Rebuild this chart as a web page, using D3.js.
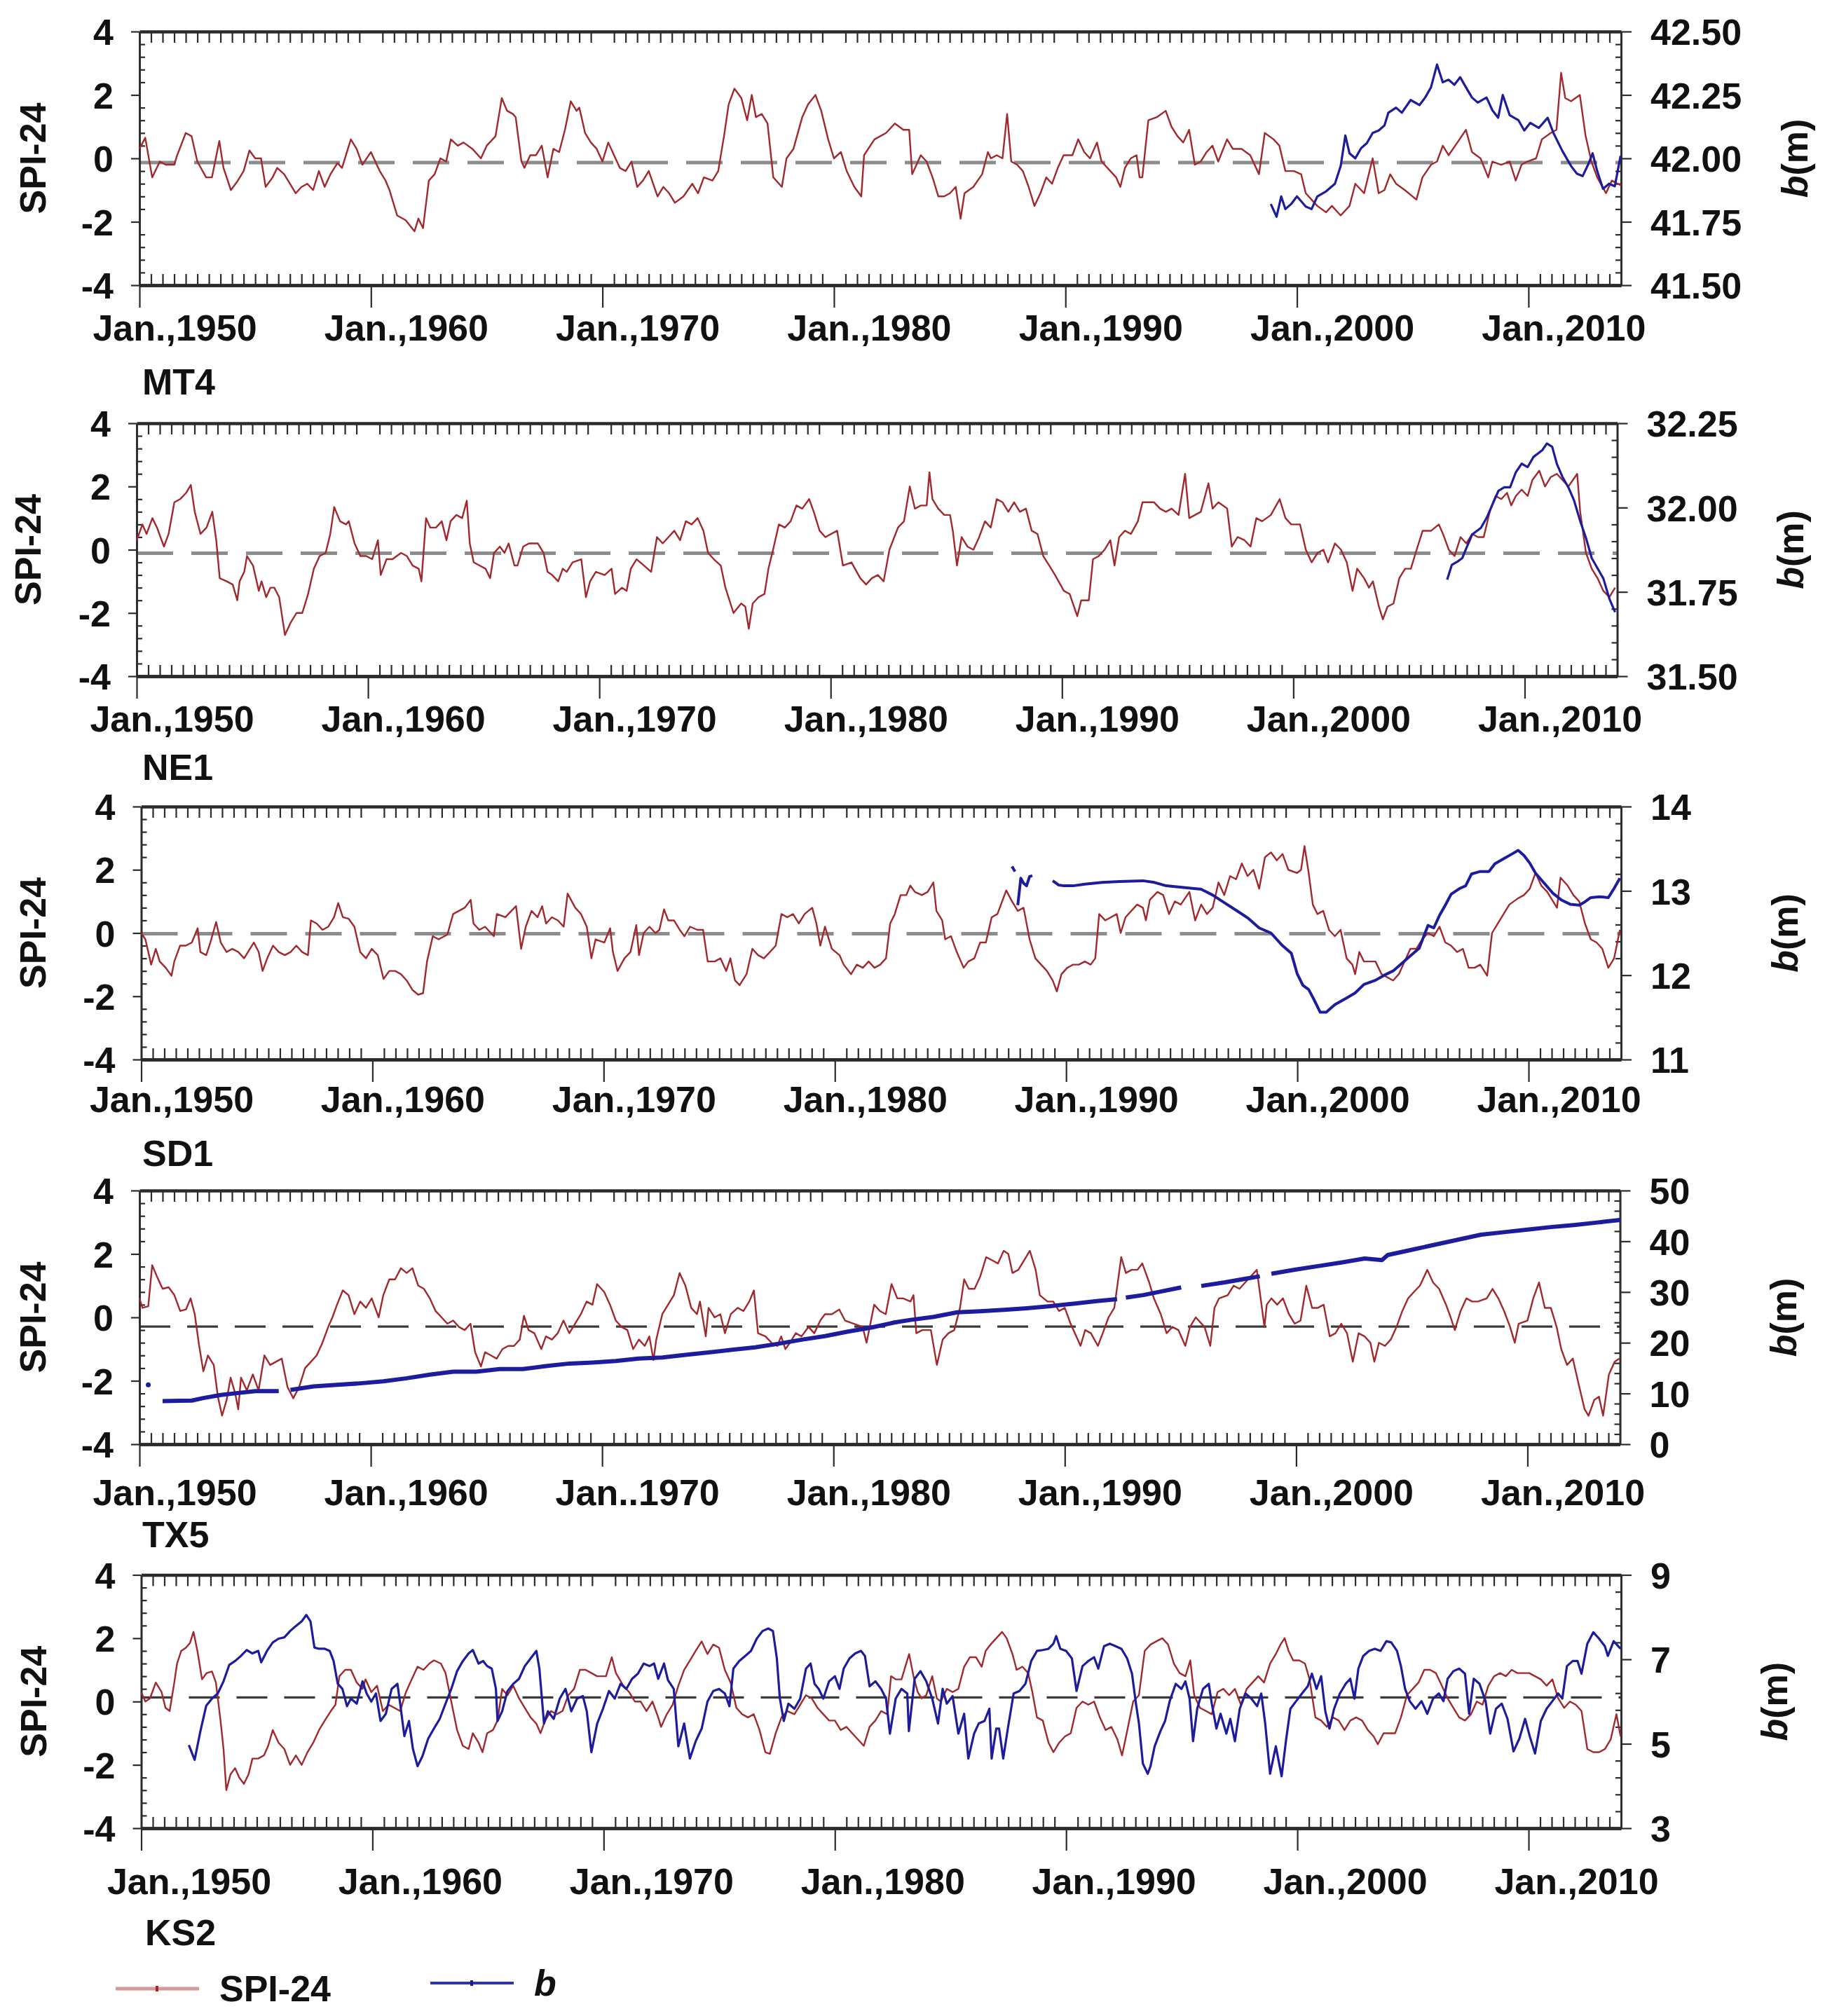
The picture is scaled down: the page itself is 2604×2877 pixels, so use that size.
<!DOCTYPE html>
<meta charset="utf-8">
<head>
  <script src="https://d3js.org/d3.v7.min.js"></script>
  <style>
    body { margin: 0; background: #fff; }
    svg { display: block; }
    svg text { font-family: "Liberation Sans", Arial, sans-serif; font-weight: bold; font-size: 52px; fill: #111; }
  </style>
</head>
<body>
<div id="my_dataviz"></div>
<script>

// ---------------- data ----------------
var sites = ["MT4", "NE1", "SD1", "TX5", "KS2"];
var yearDomain = [1950, 2014];
var decades = [1950, 1960, 1970, 1980, 1990, 2000, 2010];
var decadeLabels = ["Jan.,1950", "Jan.,1960", "Jan.,1970", "Jan.,1980", "Jan.,1990", "Jan.,2000", "Jan.,2010"];
var tx5Labels = ["Jan.,1950", "Jan.,1960", "Jan..1970", "Jan.,1980", "Jan.,1990", "Jan.,2000", "Jan.,2010"];
var spiTicks = [-4, -2, 0, 2, 4];
var mt4BTicks = [41.5, 41.75, 42, 42.25, 42.5];
var ne1BTicks = [31.5, 31.75, 32, 32.25];
var sd1BTicks = [11, 12, 13, 14];
var tx5BTicks = [0, 10, 20, 30, 40, 50];
var ks2BTicks = [3, 5, 7, 9];
var dashLevels = [-0.13, -0.11, -0.02, -0.29, 0.13];

var spiMT4 = [[1950.00,0.3],[1950.25,0.65],[1950.55,-0.6],[1950.88,-0.1],[1951.13,-0.2],[1951.5,-0.2],[1951.63,0.1],[1952.0,0.8],[1952.25,0.7],[1952.5,-0.1],[1952.88,-0.6],[1953.13,-0.6],[1953.45,0.55],[1953.63,-0.3],[1953.95,-1.0],[1954.25,-0.7],[1954.5,-0.4],[1954.75,0.25],[1955.0,0.0],[1955.25,0.0],[1955.45,-0.9],[1955.75,-0.6],[1955.95,-0.3],[1956.25,-0.5],[1956.5,-0.8],[1956.75,-1.1],[1957.0,-0.9],[1957.25,-0.8],[1957.5,-1.0],[1957.75,-0.4],[1958.0,-0.9],[1958.25,-0.5],[1958.55,-0.15],[1958.75,-0.3],[1959.13,0.6],[1959.38,0.3],[1959.63,-0.2],[1960.0,0.2],[1960.25,-0.2],[1960.38,-0.4],[1960.63,-0.7],[1960.8,-1.0],[1961.13,-1.8],[1961.5,-1.95],[1961.88,-2.3],[1962.05,-1.9],[1962.25,-2.2],[1962.5,-0.7],[1962.75,-0.5],[1963.0,0.0],[1963.25,-0.1],[1963.45,0.6],[1963.75,0.4],[1964.0,0.5],[1964.38,0.3],[1964.75,0.0],[1965.0,0.4],[1965.38,0.7],[1965.65,1.9],[1965.88,1.5],[1966.13,1.4],[1966.25,1.3],[1966.5,-0.1],[1966.63,-0.3],[1966.88,0.1],[1967.13,0.1],[1967.38,0.4],[1967.63,-0.6],[1967.88,0.3],[1968.13,0.2],[1968.38,0.9],[1968.63,1.8],[1968.88,1.5],[1969.0,1.6],[1969.25,0.8],[1969.5,0.5],[1969.75,0.3],[1970.0,-0.1],[1970.25,0.5],[1970.5,0.1],[1970.75,-0.3],[1971.0,-0.4],[1971.25,-0.1],[1971.5,-0.9],[1971.75,-0.7],[1972.0,-0.4],[1972.38,-1.2],[1972.63,-0.9],[1972.88,-1.1],[1973.13,-1.4],[1973.5,-1.2],[1973.88,-0.8],[1974.13,-1.1],[1974.38,-0.6],[1974.75,-0.7],[1975.0,-0.4],[1975.25,0.7],[1975.45,1.7],[1975.7,2.2],[1976.0,1.9],[1976.25,1.2],[1976.45,2.0],[1976.63,1.3],[1976.88,1.4],[1977.13,1.1],[1977.38,-0.6],[1977.75,-0.9],[1977.95,0.0],[1978.25,0.3],[1978.63,1.3],[1978.88,1.7],[1979.2,2.0],[1979.45,1.5],[1979.75,0.6],[1980.0,0.0],[1980.3,0.2],[1980.55,-0.4],[1980.88,-0.9],[1981.18,-1.2],[1981.3,0.1],[1981.75,0.6],[1982.25,0.8],[1982.63,1.1],[1983.0,0.9],[1983.25,0.9],[1983.38,-0.5],[1983.75,0.1],[1984.0,-0.1],[1984.26,-0.6],[1984.51,-1.2],[1984.76,-1.2],[1985.01,-1.1],[1985.26,-0.9],[1985.47,-1.9],[1985.64,-1.1],[1986.02,-0.9],[1986.4,-0.5],[1986.65,0.2],[1986.78,0.0],[1987.03,0.1],[1987.28,0.0],[1987.48,1.4],[1987.66,-0.1],[1987.91,-0.2],[1988.16,-0.4],[1988.41,-0.9],[1988.66,-1.5],[1988.92,-1.1],[1989.17,-0.6],[1989.42,-0.8],[1989.67,-0.3],[1989.92,0.1],[1990.3,0.1],[1990.55,0.6],[1990.81,0.2],[1991.06,0.0],[1991.36,0.5],[1991.56,-0.1],[1991.94,-0.4],[1992.19,-0.6],[1992.37,-0.9],[1992.57,-0.3],[1992.82,0.0],[1993.07,0.1],[1993.2,-0.6],[1993.32,-0.6],[1993.58,1.2],[1993.95,1.3],[1994.33,1.5],[1994.58,1.0],[1994.84,0.7],[1995.09,0.5],[1995.34,0.9],[1995.59,-0.2],[1995.84,-0.1],[1996.1,0.2],[1996.35,0.4],[1996.6,-0.1],[1996.98,0.6],[1997.23,0.3],[1997.61,0.3],[1997.98,0.1],[1998.36,-0.5],[1998.61,0.8],[1998.99,0.6],[1999.24,0.4],[1999.5,-0.4],[1999.87,-0.4],[2000.18,-0.5],[2000.38,-1.1],[2000.63,-1.3],[2000.88,-1.5],[2001.26,-1.7],[2001.51,-1.5],[2001.89,-1.8],[2002.27,-1.5],[2002.52,-0.8],[2002.9,-1.1],[2003.27,0.0],[2003.53,-1.1],[2003.78,-1.0],[2004.03,-0.5],[2004.28,-0.8],[2004.66,-1.0],[2005.16,-1.3],[2005.42,-0.6],[2005.79,-0.2],[2006.05,-0.1],[2006.3,0.4],[2006.55,0.1],[2006.93,0.5],[2007.3,0.9],[2007.56,0.2],[2007.93,0.0],[2008.26,-0.6],[2008.44,-0.1],[2008.82,-0.2],[2009.19,-0.1],[2009.45,-0.7],[2009.7,-0.2],[2009.95,-0.1],[2010.33,0.0],[2010.58,0.6],[2010.96,0.8],[2011.21,0.9],[2011.41,2.7],[2011.59,1.9],[2011.84,1.8],[2012.22,2.0],[2012.47,0.7],[2012.72,-0.1],[2012.97,-0.6],[2013.35,-1.1],[2013.6,-0.7],[2013.85,-0.8],[2014.0,-0.85]];

var bMT4 = [[1998.87,41.82],[1999.12,41.77],[1999.32,41.85],[1999.5,41.80],[1999.75,41.82],[2000.0,41.85],[2000.38,41.81],[2000.63,41.80],[2000.88,41.85],[2001.26,41.87],[2001.64,41.90],[2001.89,41.97],[2002.09,42.09],[2002.27,42.02],[2002.52,42.00],[2002.77,42.04],[2003.02,42.06],[2003.27,42.10],[2003.53,42.11],[2003.78,42.13],[2003.95,42.18],[2004.28,42.20],[2004.53,42.18],[2004.91,42.23],[2005.29,42.21],[2005.54,42.24],[2005.79,42.28],[2006.05,42.37],[2006.3,42.30],[2006.55,42.31],[2006.8,42.29],[2007.05,42.32],[2007.3,42.28],[2007.56,42.24],[2007.81,42.22],[2008.19,42.24],[2008.44,42.19],[2008.69,42.16],[2008.89,42.25],[2009.19,42.17],[2009.57,42.15],[2009.82,42.11],[2010.08,42.14],[2010.45,42.12],[2010.83,42.16],[2011.08,42.10],[2011.46,42.03],[2011.84,41.97],[2012.09,41.94],[2012.34,41.93],[2012.6,41.98],[2012.77,42.02],[2012.97,41.95],[2013.22,41.88],[2013.48,41.90],[2013.73,41.89],[2013.98,42.01]];

var spiNE1 = [[1950.0,0.3],[1950.25,0.8],[1950.43,0.5],[1950.68,1.0],[1950.88,0.7],[1951.18,0.1],[1951.38,0.5],[1951.63,1.5],[1951.88,1.6],[1952.14,1.8],[1952.34,2.05],[1952.51,1.2],[1952.76,0.5],[1953.02,0.7],[1953.27,1.2],[1953.44,0.3],[1953.59,-0.9],[1953.89,-1.0],[1954.15,-1.1],[1954.35,-1.6],[1954.45,-1.0],[1954.65,-0.7],[1954.77,-0.2],[1955.03,-0.5],[1955.28,-1.3],[1955.4,-1.0],[1955.6,-1.5],[1955.78,-1.2],[1955.95,-1.2],[1956.16,-1.5],[1956.41,-2.7],[1956.66,-2.3],[1956.91,-2.0],[1957.16,-2.0],[1957.41,-1.4],[1957.66,-0.6],[1957.91,-0.2],[1958.17,-0.1],[1958.37,0.5],[1958.54,1.35],[1958.79,0.9],[1959.05,0.8],[1959.17,0.9],[1959.42,0.2],[1959.67,-0.2],[1959.92,-0.2],[1960.18,-0.3],[1960.43,0.3],[1960.55,-0.8],[1960.8,-0.3],[1961.06,-0.3],[1961.43,-0.1],[1961.68,-0.2],[1961.93,-0.5],[1962.19,-0.6],[1962.31,-1.0],[1962.51,1.0],[1962.69,0.7],[1962.94,0.7],[1963.19,0.9],[1963.39,0.3],[1963.57,0.9],[1963.82,1.1],[1964.07,1.0],[1964.27,1.55],[1964.4,0.2],[1964.57,-0.4],[1964.82,-0.5],[1965.08,-0.6],[1965.28,-0.9],[1965.45,-0.1],[1965.7,0.1],[1965.9,-0.1],[1966.08,0.2],[1966.33,-0.5],[1966.46,-0.5],[1966.71,0.1],[1966.96,0.2],[1967.34,0.2],[1967.59,-0.1],[1967.76,-0.7],[1967.96,-0.8],[1968.22,-1.0],[1968.42,-0.6],[1968.59,-0.7],[1968.84,-0.4],[1969.22,-0.3],[1969.42,-1.5],[1969.6,-1.0],[1969.85,-0.7],[1970.23,-0.8],[1970.53,-0.6],[1970.68,-1.4],[1970.98,-1.2],[1971.18,-1.3],[1971.36,-0.6],[1971.61,-0.3],[1971.93,-0.5],[1972.24,-0.7],[1972.49,0.4],[1972.74,0.2],[1972.99,0.4],[1973.24,0.6],[1973.49,0.3],[1973.74,0.9],[1973.99,0.8],[1974.25,1.0],[1974.5,0.6],[1974.7,-0.1],[1974.95,-0.3],[1975.25,-0.5],[1975.45,-1.2],[1975.8,-2.0],[1976.13,-1.7],[1976.31,-1.8],[1976.46,-2.5],[1976.63,-1.7],[1976.88,-1.5],[1977.14,-1.4],[1977.31,-0.6],[1977.51,0.0],[1977.76,0.8],[1978.02,0.7],[1978.27,0.9],[1978.52,1.4],[1978.77,1.3],[1979.07,1.6],[1979.27,1.2],[1979.52,0.6],[1979.77,0.4],[1980.28,0.6],[1980.53,-0.5],[1980.9,-0.4],[1981.28,-0.9],[1981.53,-1.1],[1981.78,-0.9],[1982.04,-0.8],[1982.29,-1.0],[1982.54,0.0],[1982.91,0.7],[1983.17,0.9],[1983.42,2.0],[1983.64,1.3],[1983.9,1.4],[1984.15,1.4],[1984.27,2.45],[1984.4,1.6],[1984.65,1.3],[1984.91,1.1],[1985.16,1.1],[1985.28,0.6],[1985.46,-0.5],[1985.66,0.4],[1985.91,0.1],[1986.17,0.0],[1986.42,0.4],[1986.67,0.9],[1986.92,0.7],[1987.18,1.6],[1987.43,1.5],[1987.68,1.2],[1987.93,1.5],[1988.18,1.2],[1988.44,1.3],[1988.69,0.6],[1988.94,0.5],[1989.19,-0.2],[1989.45,-0.5],[1989.7,-0.8],[1990.08,-1.3],[1990.33,-1.4],[1990.66,-2.1],[1990.83,-1.6],[1991.16,-1.6],[1991.34,-0.3],[1991.59,-0.2],[1991.84,0.0],[1992.09,0.3],[1992.27,-0.5],[1992.47,0.4],[1992.72,0.6],[1992.98,0.5],[1993.28,0.9],[1993.48,1.5],[1993.73,1.5],[1993.98,1.5],[1994.24,1.3],[1994.49,1.2],[1994.74,1.3],[1995.04,1.1],[1995.32,2.4],[1995.5,1.0],[1995.75,1.1],[1996.0,1.2],[1996.33,2.1],[1996.51,1.3],[1996.76,1.5],[1997.14,1.3],[1997.34,0.1],[1997.59,0.4],[1997.89,0.3],[1998.15,0.1],[1998.4,1.0],[1998.65,0.9],[1999.03,1.1],[1999.41,1.6],[1999.66,1.0],[1999.91,0.8],[2000.29,0.8],[2000.54,0.0],[2000.79,-0.4],[2001.05,-0.1],[2001.3,0.0],[2001.5,-0.4],[2001.8,0.2],[2002.06,0.0],[2002.31,-0.4],[2002.56,-1.3],[2002.76,-0.6],[2003.06,-0.9],[2003.27,-1.2],[2003.44,-1.0],[2003.7,-1.8],[2003.87,-2.2],[2004.07,-1.8],[2004.33,-1.7],[2004.58,-0.9],[2004.83,-0.6],[2005.08,-0.6],[2005.33,0.0],[2005.59,0.6],[2005.96,0.6],[2006.29,0.8],[2006.47,0.5],[2006.72,0.0],[2006.97,-0.2],[2007.23,0.4],[2007.48,0.2],[2007.73,0.5],[2007.98,0.4],[2008.23,0.4],[2008.49,1.2],[2008.74,1.7],[2008.99,1.6],[2009.24,1.8],[2009.42,1.4],[2009.62,1.7],[2009.87,1.9],[2010.13,1.7],[2010.33,2.2],[2010.63,2.5],[2010.88,2.0],[2011.13,2.3],[2011.39,2.4],[2011.64,2.2],[2011.89,2.0],[2012.27,2.4],[2012.4,1.2],[2012.65,-0.1],[2012.9,-0.6],[2013.15,-0.9],[2013.4,-1.3],[2013.66,-1.5],[2013.91,-1.2]];

var bNE1 = [[2006.65,31.786],[2006.85,31.83],[2007.1,31.84],[2007.3,31.85],[2007.48,31.88],[2007.73,31.92],[2008.11,31.94],[2008.36,31.97],[2008.61,32.01],[2008.87,32.05],[2009.12,32.06],[2009.37,32.06],[2009.62,32.105],[2009.87,32.13],[2010.13,32.12],[2010.38,32.15],[2010.76,32.17],[2010.96,32.19],[2011.19,32.18],[2011.39,32.13],[2011.64,32.09],[2011.89,32.06],[2012.14,32.02],[2012.4,31.96],[2012.65,31.91],[2012.9,31.85],[2013.15,31.82],[2013.4,31.79],[2013.66,31.73],[2013.91,31.69]];

var spiSD1 = [[1950.0,0.0],[1950.18,-0.2],[1950.43,-1.0],[1950.63,-0.5],[1950.8,-0.9],[1951.06,-1.1],[1951.31,-1.35],[1951.43,-0.9],[1951.68,-0.4],[1951.93,-0.4],[1952.19,-0.3],[1952.44,0.15],[1952.56,-0.6],[1952.81,-0.7],[1952.99,-0.3],[1953.24,0.35],[1953.44,-0.3],[1953.69,-0.6],[1953.94,-0.5],[1954.2,-0.6],[1954.45,-0.8],[1954.7,-0.5],[1954.87,-0.3],[1955.08,-0.6],[1955.25,-1.2],[1955.45,-0.8],[1955.7,-0.4],[1955.95,-0.6],[1956.21,-0.7],[1956.46,-0.6],[1956.71,-0.4],[1956.96,-0.6],[1957.21,-0.7],[1957.34,0.4],[1957.59,0.3],[1957.84,0.1],[1958.09,0.2],[1958.34,0.5],[1958.52,0.95],[1958.72,0.5],[1958.97,0.45],[1959.22,0.2],[1959.47,-0.6],[1959.72,-0.8],[1959.97,-0.5],[1960.23,-0.7],[1960.48,-1.45],[1960.73,-1.2],[1960.98,-1.2],[1961.23,-1.3],[1961.48,-1.5],[1961.73,-1.8],[1961.98,-1.95],[1962.19,-1.9],[1962.36,-0.9],[1962.61,-0.1],[1962.86,-0.2],[1963.24,-0.05],[1963.49,0.6],[1963.74,0.7],[1963.99,0.8],[1964.25,1.05],[1964.37,0.3],[1964.62,0.1],[1964.87,0.2],[1965.25,-0.1],[1965.38,0.6],[1965.75,0.5],[1966.01,0.7],[1966.21,0.85],[1966.43,-0.5],[1966.63,0.2],[1966.88,0.7],[1967.14,0.5],[1967.34,0.85],[1967.51,0.3],[1967.76,0.5],[1968.02,0.4],[1968.27,0.2],[1968.44,1.25],[1968.77,0.8],[1969.02,0.6],[1969.27,0.2],[1969.47,-0.8],[1969.65,-0.2],[1970.03,-0.3],[1970.28,0.15],[1970.4,-0.6],[1970.6,-1.2],[1970.9,-0.8],[1971.16,-0.6],[1971.41,0.25],[1971.53,-0.7],[1971.73,0.0],[1971.98,0.2],[1972.24,0.0],[1972.41,0.1],[1972.61,0.75],[1972.79,0.4],[1973.04,0.4],[1973.29,0.1],[1973.49,-0.1],[1973.74,0.2],[1974.05,0.1],[1974.3,0.1],[1974.5,-0.9],[1974.8,-0.9],[1975.05,-0.8],[1975.3,-1.2],[1975.48,-0.8],[1975.68,-1.5],[1975.88,-1.65],[1976.18,-1.3],[1976.43,-0.5],[1976.68,-0.7],[1976.93,-0.8],[1977.19,-0.6],[1977.44,-0.4],[1977.69,0.6],[1977.94,0.5],[1978.19,0.6],[1978.44,0.3],[1978.69,0.6],[1979.02,0.8],[1979.2,0.3],[1979.37,-0.4],[1979.57,0.2],[1979.87,-0.5],[1980.2,-0.7],[1980.38,-1.0],[1980.7,-1.3],[1980.95,-1.0],[1981.21,-1.1],[1981.46,-0.9],[1981.71,-1.1],[1981.96,-1.0],[1982.21,-0.8],[1982.39,0.3],[1982.59,0.6],[1982.84,1.2],[1983.09,1.2],[1983.26,1.5],[1983.46,1.3],[1983.76,1.2],[1984.01,1.3],[1984.26,1.6],[1984.39,0.7],[1984.64,0.4],[1984.77,-0.2],[1985.02,-0.1],[1985.27,-0.6],[1985.57,-1.1],[1985.77,-0.9],[1986.03,-0.8],[1986.28,-0.3],[1986.53,-0.3],[1986.78,0.5],[1987.03,0.6],[1987.41,1.35],[1987.66,1.0],[1987.91,0.7],[1988.16,0.8],[1988.42,-0.2],[1988.67,-0.8],[1988.92,-1.0],[1989.17,-1.2],[1989.42,-1.5],[1989.6,-1.85],[1989.8,-1.3],[1990.05,-1.1],[1990.3,-1.0],[1990.55,-1.0],[1990.81,-0.9],[1991.06,-1.0],[1991.26,-0.8],[1991.43,0.6],[1991.69,0.4],[1991.94,0.5],[1992.19,0.6],[1992.36,0.0],[1992.57,0.5],[1992.82,0.7],[1993.07,0.9],[1993.32,0.8],[1993.45,0.4],[1993.62,1.05],[1993.95,1.3],[1994.2,1.2],[1994.45,0.6],[1994.7,1.0],[1994.96,0.9],[1995.33,1.3],[1995.58,0.4],[1995.84,0.9],[1996.09,0.6],[1996.34,0.8],[1996.59,1.6],[1996.84,1.2],[1997.09,1.8],[1997.35,1.7],[1997.6,2.2],[1997.85,1.8],[1998.1,2.0],[1998.35,1.4],[1998.6,2.4],[1998.86,2.55],[1999.11,2.3],[1999.36,2.5],[1999.61,2.0],[1999.99,1.9],[2000.16,2.0],[2000.31,2.75],[2000.49,1.9],[2000.67,0.9],[2000.87,0.6],[2001.12,0.7],[2001.37,0.1],[2001.62,-0.1],[2001.87,0.1],[2002.13,-0.8],[2002.38,-1.0],[2002.5,-1.3],[2002.68,-0.6],[2002.88,-0.9],[2003.13,-0.9],[2003.38,-0.9],[2003.64,-1.3],[2003.89,-1.4],[2004.14,-1.5],[2004.39,-1.3],[2004.64,-0.9],[2004.89,-0.5],[2005.14,-0.5],[2005.4,-0.2],[2005.65,0.0],[2005.9,-0.1],[2006.15,0.2],[2006.4,-0.3],[2006.65,-0.4],[2006.91,-0.6],[2007.16,-0.5],[2007.41,-1.1],[2007.66,-1.1],[2007.91,-1.0],[2008.21,-1.35],[2008.42,0.0],[2008.67,0.3],[2008.92,0.6],[2009.17,0.9],[2009.55,1.1],[2009.8,1.2],[2010.05,1.4],[2010.3,1.9],[2010.55,1.5],[2010.81,1.3],[2011.06,1.0],[2011.23,0.8],[2011.38,1.75],[2011.69,1.5],[2011.94,1.2],[2012.19,1.0],[2012.44,0.3],[2012.69,-0.2],[2012.94,-0.3],[2013.19,-0.5],[2013.45,-1.1],[2013.7,-0.8],[2013.95,0.1]];

var bSD1 = [[1987.66,13.29],[1987.79,13.23],[1987.85,null],[1987.91,12.83],[1988.04,13.15],[1988.16,13.09],[1988.29,13.06],[1988.42,13.17],[1988.54,13.18],[1988.9,null],[1989.42,13.12],[1989.67,13.07],[1989.92,13.06],[1990.3,13.06],[1990.81,13.08],[1991.56,13.1],[1992.31,13.11],[1993.32,13.12],[1993.82,13.1],[1994.33,13.06],[1995.08,13.04],[1995.84,13.02],[1996.34,12.95],[1996.84,12.86],[1997.35,12.77],[1997.85,12.68],[1998.35,12.56],[1998.86,12.5],[1999.36,12.35],[1999.74,12.26],[1999.99,12.02],[2000.24,11.88],[2000.49,11.83],[2000.74,11.7],[2000.99,11.56],[2001.25,11.56],[2001.62,11.65],[2002.13,11.73],[2002.5,11.79],[2002.88,11.89],[2003.38,11.94],[2003.76,12.0],[2004.14,12.05],[2004.52,12.14],[2004.89,12.23],[2005.27,12.32],[2005.65,12.59],[2005.9,12.56],[2006.15,12.71],[2006.4,12.83],[2006.65,12.96],[2007.03,13.03],[2007.28,13.06],[2007.53,13.2],[2007.91,13.23],[2008.29,13.23],[2008.54,13.32],[2008.92,13.38],[2009.3,13.44],[2009.55,13.48],[2009.8,13.42],[2010.05,13.33],[2010.3,13.21],[2010.68,13.09],[2011.06,12.97],[2011.43,12.89],[2011.81,12.84],[2012.19,12.83],[2012.44,12.87],[2012.69,12.92],[2013.07,12.93],[2013.45,12.92],[2013.7,13.03],[2013.95,13.15]];

var spiTX5 = [[1950.0,0.6],[1950.13,0.3],[1950.38,0.35],[1950.55,1.65],[1950.75,1.3],[1951.0,0.9],[1951.26,0.95],[1951.51,0.7],[1951.76,0.2],[1952.01,0.25],[1952.21,0.6],[1952.39,0.1],[1952.56,-0.8],[1952.76,-1.7],[1952.96,-1.2],[1953.21,-1.5],[1953.39,-2.5],[1953.57,-3.1],[1953.77,-2.6],[1953.94,-1.9],[1954.14,-2.4],[1954.27,-2.9],[1954.39,-1.9],[1954.64,-2.3],[1954.9,-1.8],[1955.15,-2.3],[1955.4,-1.2],[1955.65,-1.5],[1955.9,-1.4],[1956.15,-1.3],[1956.4,-2.2],[1956.65,-2.55],[1956.9,-2.2],[1957.16,-1.6],[1957.41,-1.4],[1957.66,-1.2],[1957.91,-0.8],[1958.16,-0.3],[1958.34,0.0],[1958.54,0.4],[1958.79,0.85],[1959.04,0.7],[1959.29,0.1],[1959.54,0.5],[1959.79,0.3],[1960.04,0.6],[1960.34,0.0],[1960.54,0.7],[1960.8,1.2],[1961.05,1.2],[1961.3,1.55],[1961.55,1.4],[1961.8,1.55],[1962.05,1.0],[1962.3,0.9],[1962.55,0.6],[1962.8,0.2],[1963.06,0.0],[1963.31,-0.2],[1963.56,-0.1],[1963.81,-0.3],[1964.06,-0.4],[1964.31,-0.2],[1964.51,-1.1],[1964.76,-1.55],[1964.94,-1.1],[1965.19,-1.2],[1965.44,-1.3],[1965.69,-1.0],[1965.94,-0.9],[1966.19,-0.9],[1966.44,-0.7],[1966.62,0.05],[1966.82,-0.4],[1967.07,-0.5],[1967.37,-1.0],[1967.57,-0.6],[1967.83,-0.7],[1968.08,-0.5],[1968.33,-0.1],[1968.58,-0.5],[1968.83,-0.2],[1969.08,0.1],[1969.33,0.5],[1969.58,0.4],[1969.78,1.05],[1970.09,0.8],[1970.34,0.4],[1970.59,-0.1],[1970.84,-0.3],[1971.09,-0.4],[1971.34,-1.0],[1971.59,-0.7],[1971.84,-0.9],[1972.04,-0.6],[1972.22,-1.35],[1972.34,-0.7],[1972.6,0.1],[1972.85,0.4],[1973.1,0.7],[1973.35,1.4],[1973.6,1.0],[1973.85,0.3],[1974.1,0.1],[1974.23,0.5],[1974.48,-0.6],[1974.6,0.3],[1974.86,0.0],[1975.11,0.1],[1975.31,-0.5],[1975.56,0.1],[1975.86,0.3],[1976.11,0.2],[1976.36,0.5],[1976.56,0.85],[1976.74,-0.5],[1977.06,-0.6],[1977.32,-0.8],[1977.57,-0.9],[1977.74,-0.6],[1977.92,-1.0],[1978.12,-0.8],[1978.37,-0.5],[1978.62,-0.6],[1978.92,-0.3],[1979.17,-0.5],[1979.43,-0.1],[1979.63,0.1],[1979.93,0.1],[1980.25,0.25],[1980.5,-0.1],[1980.88,-0.2],[1981.26,-0.3],[1981.43,-0.8],[1981.76,0.4],[1982.01,0.2],[1982.26,0.1],[1982.51,1.05],[1982.76,0.6],[1983.01,0.6],[1983.33,0.5],[1983.46,0.7],[1983.58,-0.5],[1983.84,-0.4],[1984.21,-0.4],[1984.47,-1.5],[1984.72,-0.7],[1984.97,-0.5],[1985.22,-0.4],[1985.47,0.3],[1985.65,1.2],[1985.85,0.9],[1986.1,0.9],[1986.35,1.3],[1986.6,1.9],[1986.86,1.8],[1987.11,1.7],[1987.36,2.1],[1987.56,2.0],[1987.74,1.4],[1987.99,1.5],[1988.24,1.8],[1988.49,2.1],[1988.74,1.5],[1988.92,0.7],[1989.25,0.5],[1989.5,0.5],[1989.75,0.2],[1990.0,0.3],[1990.25,-0.2],[1990.5,-0.6],[1990.68,-0.9],[1990.88,-0.4],[1991.13,-0.5],[1991.43,-0.9],[1991.64,-0.5],[1991.89,0.0],[1992.14,0.3],[1992.44,1.9],[1992.64,1.4],[1992.89,1.5],[1993.14,1.5],[1993.35,1.7],[1993.65,1.1],[1993.85,0.6],[1994.15,0.1],[1994.4,-0.5],[1994.65,-0.3],[1994.91,-0.4],[1995.21,-0.9],[1995.41,-0.3],[1995.66,0.0],[1996.04,-0.3],[1996.29,-0.9],[1996.47,0.3],[1996.67,0.6],[1997.04,0.7],[1997.3,1.0],[1997.55,0.9],[1997.92,1.2],[1998.3,1.5],[1998.43,0.8],[1998.63,-0.3],[1998.73,0.4],[1998.93,0.6],[1999.18,0.4],[1999.43,0.6],[1999.69,0.1],[1999.94,-0.2],[2000.19,-0.1],[2000.44,1.0],[2000.69,0.3],[2000.94,0.3],[2001.19,0.4],[2001.45,-0.6],[2001.7,-0.5],[2001.95,-0.2],[2002.2,-0.5],[2002.45,-1.4],[2002.7,-0.5],[2002.96,-0.6],[2003.21,-0.8],[2003.38,-1.4],[2003.58,-0.8],[2003.84,-0.9],[2004.09,-0.7],[2004.34,-0.3],[2004.59,0.2],[2004.84,0.6],[2005.09,0.8],[2005.35,1.0],[2005.67,1.5],[2005.92,1.1],[2006.18,0.9],[2006.48,0.4],[2006.68,0.0],[2006.86,-0.4],[2007.11,0.2],[2007.36,0.6],[2007.61,0.5],[2007.86,0.5],[2008.24,0.6],[2008.49,0.9],[2008.74,0.6],[2008.99,0.2],[2009.25,-0.3],[2009.45,-0.8],[2009.62,-0.2],[2010.0,-0.1],[2010.25,0.6],[2010.5,1.1],[2010.75,0.3],[2011.01,0.3],[2011.26,-0.3],[2011.46,-1.0],[2011.71,-1.5],[2011.96,-1.3],[2012.21,-2.1],[2012.47,-2.9],[2012.64,-3.1],[2012.89,-2.6],[2013.09,-2.5],[2013.27,-3.1],[2013.52,-1.8],[2013.77,-1.4],[2013.97,-1.3]];

var bTX5 = [[1950.38,11.7],[1950.6,null],[1951.0,8.5],[1952.26,8.6],[1952.76,9.1],[1953.51,9.7],[1954.27,10.1],[1955.02,10.45],[1956.02,10.45],[1956.3,null],[1956.53,10.7],[1957.53,11.4],[1958.54,11.7],[1959.54,12.0],[1960.54,12.4],[1961.55,13.0],[1962.55,13.7],[1963.56,14.3],[1964.56,14.3],[1965.57,14.8],[1966.57,14.8],[1967.57,15.4],[1968.58,15.9],[1969.58,16.1],[1970.59,16.4],[1971.59,16.9],[1972.6,17.1],[1973.6,17.6],[1974.61,18.1],[1975.61,18.6],[1976.62,19.1],[1977.62,19.8],[1978.62,20.6],[1979.63,21.3],[1980.63,22.2],[1981.64,23.0],[1982.64,24.0],[1983.33,24.5],[1984.34,25.1],[1985.35,26.0],[1986.35,26.2],[1987.36,26.5],[1988.36,26.8],[1989.37,27.2],[1990.38,27.7],[1991.38,28.2],[1992.26,28.6],[1992.45,null],[1992.64,28.9],[1993.4,29.4],[1994.15,30.1],[1995.03,30.9],[1995.5,null],[1995.9,31.2],[1996.92,31.9],[1997.92,32.7],[1998.43,33.1],[1998.7,null],[1998.93,33.6],[1999.94,34.4],[2000.94,35.1],[2001.95,35.8],[2002.96,36.6],[2003.71,36.3],[2003.96,37.3],[2004.97,38.3],[2005.97,39.3],[2006.98,40.3],[2007.99,41.3],[2008.99,41.8],[2010.0,42.3],[2011.01,42.8],[2012.01,43.2],[2013.02,43.7],[2014.0,44.2]];

var spiKS2 = [[1950.0,0.3],[1950.18,0.0],[1950.38,0.1],[1950.63,0.6],[1950.88,0.3],[1951.05,-0.2],[1951.23,-0.3],[1951.43,0.6],[1951.55,1.2],[1951.73,1.6],[1951.93,1.7],[1952.11,1.85],[1952.26,2.2],[1952.43,1.6],[1952.63,0.7],[1952.83,0.9],[1953.06,0.95],[1953.23,0.6],[1953.43,-0.6],[1953.56,-1.5],[1953.68,-2.8],[1953.86,-2.3],[1954.06,-2.1],[1954.24,-2.4],[1954.44,-2.6],[1954.64,-2.3],[1954.81,-1.8],[1955.06,-1.8],[1955.31,-1.7],[1955.49,-1.4],[1955.69,-0.9],[1955.94,-1.3],[1956.19,-1.5],[1956.44,-2.0],[1956.69,-1.7],[1956.94,-2.0],[1957.19,-1.6],[1957.44,-1.3],[1957.69,-0.9],[1957.94,-0.6],[1958.2,-0.3],[1958.4,-0.1],[1958.57,0.8],[1958.82,1.0],[1959.07,1.0],[1959.32,0.6],[1959.57,0.4],[1959.7,0.7],[1959.95,0.3],[1960.2,0.5],[1960.45,-0.3],[1960.7,-0.1],[1960.95,-0.2],[1961.2,-0.3],[1961.45,0.3],[1961.7,0.7],[1961.95,1.1],[1962.21,1.0],[1962.46,1.2],[1962.66,1.3],[1962.96,1.2],[1963.16,0.9],[1963.41,0.0],[1963.66,-0.9],[1963.91,-1.4],[1964.16,-1.5],[1964.34,-1.0],[1964.59,-1.3],[1964.76,-1.6],[1964.96,-1.0],[1965.21,-0.9],[1965.41,-0.6],[1965.61,0.4],[1965.84,0.2],[1966.09,0.5],[1966.34,0.1],[1966.59,-0.2],[1966.84,-0.5],[1967.09,-0.7],[1967.27,-1.0],[1967.47,-0.6],[1967.72,-0.3],[1967.97,-0.4],[1968.22,-0.3],[1968.47,0.2],[1968.72,0.4],[1968.97,1.0],[1969.22,1.0],[1969.47,0.9],[1969.72,0.8],[1970.1,0.8],[1970.35,1.4],[1970.53,0.9],[1970.85,0.5],[1971.1,0.3],[1971.35,0.0],[1971.6,0.0],[1971.85,-0.3],[1972.11,0.0],[1972.36,-0.5],[1972.48,-0.8],[1972.73,-0.4],[1972.98,-0.1],[1973.23,0.5],[1973.48,1.0],[1973.73,1.3],[1973.98,1.6],[1974.24,1.9],[1974.49,1.5],[1974.74,1.8],[1974.99,1.7],[1975.24,1.0],[1975.49,0.6],[1975.74,-0.2],[1975.99,-0.4],[1976.24,-0.5],[1976.49,-0.4],[1976.74,-0.9],[1976.99,-1.6],[1977.19,-1.65],[1977.44,-1.0],[1977.69,-0.5],[1977.94,-0.3],[1978.25,-0.4],[1978.5,-0.1],[1978.75,0.2],[1979.0,0.1],[1979.25,-0.2],[1979.5,-0.4],[1979.75,-0.6],[1980.0,-0.6],[1980.25,-0.9],[1980.5,-0.8],[1980.75,-1.0],[1981.0,-1.2],[1981.25,-1.4],[1981.5,-0.8],[1981.75,-0.6],[1982.0,-0.3],[1982.26,-0.4],[1982.43,0.8],[1982.63,0.7],[1982.88,0.7],[1983.21,1.5],[1983.4,0.8],[1983.58,0.3],[1983.75,0.1],[1983.95,0.2],[1984.21,0.8],[1984.41,0.1],[1984.58,0.0],[1984.84,0.4],[1985.09,0.3],[1985.34,0.4],[1985.59,1.1],[1985.84,1.4],[1986.1,1.4],[1986.35,1.1],[1986.52,1.6],[1986.73,1.8],[1986.98,2.0],[1987.23,2.2],[1987.43,2.0],[1987.68,1.5],[1987.86,1.0],[1988.11,1.1],[1988.36,0.9],[1988.54,0.3],[1988.74,-0.5],[1988.99,-0.6],[1989.24,-1.3],[1989.45,-1.6],[1989.7,-1.3],[1989.95,-1.1],[1990.2,-1.0],[1990.45,-0.2],[1990.71,0.0],[1990.96,-0.1],[1991.21,0.0],[1991.46,-0.5],[1991.71,-0.9],[1991.96,-0.8],[1992.22,-1.2],[1992.42,-1.7],[1992.62,-1.0],[1992.9,0.0],[1993.15,0.2],[1993.4,1.6],[1993.65,1.8],[1993.9,1.9],[1994.16,2.0],[1994.41,1.8],[1994.66,1.2],[1994.91,0.9],[1995.16,0.8],[1995.37,1.3],[1995.54,0.2],[1995.79,-0.2],[1996.05,-0.3],[1996.3,-0.4],[1996.55,0.3],[1996.8,0.4],[1997.05,0.2],[1997.3,0.4],[1997.56,-0.1],[1997.81,0.4],[1998.06,0.6],[1998.31,0.8],[1998.56,0.6],[1998.82,1.2],[1999.07,1.5],[1999.27,1.8],[1999.45,2.0],[1999.62,1.6],[1999.82,1.3],[2000.08,1.3],[2000.33,1.2],[2000.53,0.7],[2000.78,-0.5],[2001.03,-0.6],[2001.28,-0.8],[2001.54,-0.5],[2001.79,-0.6],[2002.04,-0.9],[2002.29,-0.6],[2002.54,-0.5],[2002.8,-0.6],[2003.05,-0.9],[2003.3,-1.1],[2003.48,-1.35],[2003.73,-1.0],[2003.98,-1.0],[2004.23,-1.0],[2004.48,-0.5],[2004.74,0.2],[2004.99,0.4],[2005.24,0.6],[2005.49,1.0],[2005.74,1.0],[2005.99,0.9],[2006.25,0.5],[2006.5,0.1],[2006.75,-0.2],[2007.0,-0.5],[2007.25,-0.6],[2007.51,-0.4],[2007.76,0.0],[2008.01,-0.1],[2008.26,0.5],[2008.51,0.8],[2008.77,0.9],[2009.02,0.8],[2009.27,1.0],[2009.52,0.9],[2009.77,0.9],[2010.03,0.9],[2010.28,0.8],[2010.53,0.7],[2010.78,0.5],[2011.03,0.7],[2011.28,0.1],[2011.54,-0.2],[2011.79,0.0],[2012.04,-0.1],[2012.29,-0.3],[2012.54,-1.5],[2012.8,-1.6],[2013.05,-1.6],[2013.3,-1.5],[2013.55,-1.2],[2013.8,-0.4],[2013.98,-1.1]];

var bKS2 = [[1952.06,4.97],[1952.31,4.62],[1952.56,5.3],[1952.81,5.9],[1953.06,6.07],[1953.31,6.19],[1953.56,6.48],[1953.81,6.87],[1954.06,6.96],[1954.31,7.08],[1954.56,7.22],[1954.81,7.14],[1955.06,7.2],[1955.19,6.93],[1955.44,7.2],[1955.69,7.4],[1955.94,7.49],[1956.19,7.52],[1956.44,7.67],[1956.69,7.79],[1956.94,7.9],[1957.14,8.05],[1957.32,7.9],[1957.49,7.28],[1957.69,7.25],[1957.94,7.25],[1958.15,7.2],[1958.32,6.96],[1958.5,6.42],[1958.7,6.3],[1958.9,5.89],[1959.07,6.07],[1959.32,5.95],[1959.57,6.48],[1959.75,6.19],[1959.95,6.0],[1960.15,6.19],[1960.35,5.54],[1960.58,5.71],[1960.83,6.3],[1961.08,6.42],[1961.2,5.95],[1961.38,5.18],[1961.58,5.54],[1961.75,4.88],[1961.95,4.47],[1962.16,4.7],[1962.41,5.12],[1962.66,5.36],[1962.91,5.59],[1963.16,5.95],[1963.41,6.3],[1963.66,6.72],[1963.91,6.96],[1964.16,7.14],[1964.34,7.22],[1964.59,6.9],[1964.79,6.96],[1964.96,6.84],[1965.16,6.78],[1965.34,6.3],[1965.41,5.54],[1965.61,5.77],[1965.84,6.25],[1966.09,6.42],[1966.34,6.54],[1966.59,6.84],[1966.84,7.02],[1967.09,7.2],[1967.22,6.78],[1967.42,5.48],[1967.59,5.77],[1967.84,5.59],[1968.1,6.07],[1968.35,6.3],[1968.6,5.77],[1968.85,6.07],[1969.1,6.13],[1969.27,5.77],[1969.47,4.8],[1969.72,5.48],[1969.97,5.83],[1970.23,6.25],[1970.48,6.07],[1970.73,6.42],[1970.98,6.3],[1971.23,6.54],[1971.48,6.66],[1971.73,6.9],[1971.98,6.84],[1972.18,6.9],[1972.36,6.54],[1972.61,6.9],[1972.78,6.51],[1973.03,6.3],[1973.23,4.94],[1973.48,5.48],[1973.73,4.65],[1973.98,5.06],[1974.24,5.36],[1974.49,6.0],[1974.74,6.25],[1974.99,6.3],[1975.24,6.19],[1975.44,5.89],[1975.61,6.78],[1975.86,6.96],[1976.12,7.08],[1976.37,7.2],[1976.62,7.49],[1976.87,7.67],[1977.12,7.73],[1977.32,7.67],[1977.49,7.02],[1977.62,6.07],[1977.79,5.54],[1977.99,5.95],[1978.25,5.83],[1978.5,6.07],[1978.75,6.78],[1978.95,6.9],[1979.12,6.42],[1979.3,6.3],[1979.5,6.07],[1979.75,6.48],[1980.0,6.6],[1980.2,6.3],[1980.38,6.78],[1980.63,7.02],[1980.88,7.14],[1981.13,7.2],[1981.3,7.08],[1981.5,6.36],[1981.75,6.48],[1982.0,6.3],[1982.21,6.07],[1982.38,5.24],[1982.63,6.07],[1982.88,6.3],[1983.13,6.19],[1983.2,5.3],[1983.45,6.54],[1983.7,6.72],[1983.95,6.48],[1984.21,6.07],[1984.46,5.48],[1984.66,6.3],[1984.84,5.95],[1985.09,6.13],[1985.34,5.24],[1985.59,5.71],[1985.77,4.65],[1986.02,5.24],[1986.22,5.48],[1986.47,5.54],[1986.68,5.83],[1986.78,4.65],[1986.98,5.36],[1987.1,5.36],[1987.28,4.65],[1987.48,5.36],[1987.73,6.19],[1987.98,6.25],[1988.24,6.42],[1988.49,6.96],[1988.74,7.2],[1988.99,7.22],[1989.24,7.25],[1989.45,7.37],[1989.57,7.55],[1989.75,7.25],[1990.0,7.2],[1990.25,7.02],[1990.45,6.25],[1990.71,6.84],[1990.96,6.96],[1991.21,7.05],[1991.39,6.78],[1991.64,7.31],[1991.89,7.37],[1992.14,7.31],[1992.39,7.25],[1992.64,7.02],[1992.85,6.66],[1993.02,5.95],[1993.15,5.48],[1993.32,4.53],[1993.53,4.29],[1993.65,4.47],[1993.83,4.94],[1994.08,5.3],[1994.28,5.54],[1994.48,6.01],[1994.74,6.42],[1994.99,6.3],[1995.16,6.48],[1995.34,6.07],[1995.49,5.06],[1995.67,5.83],[1995.92,6.3],[1996.17,6.42],[1996.3,5.95],[1996.5,5.36],[1996.68,5.71],[1996.93,5.24],[1997.1,5.59],[1997.3,5.06],[1997.51,5.83],[1997.76,6.19],[1998.01,6.07],[1998.26,5.89],[1998.44,6.19],[1998.61,5.48],[1998.82,4.29],[1999.07,4.94],[1999.32,4.23],[1999.52,5.12],[1999.7,5.83],[1999.95,6.01],[2000.2,6.19],[2000.45,6.36],[2000.63,6.66],[2000.83,6.3],[2001.03,6.6],[2001.21,5.77],[2001.39,5.36],[2001.59,5.83],[2001.84,6.19],[2002.09,6.42],[2002.29,6.54],[2002.47,6.07],[2002.64,6.78],[2002.85,7.08],[2003.1,7.2],[2003.35,7.25],[2003.6,7.2],[2003.85,7.43],[2004.06,7.4],[2004.31,7.2],[2004.48,6.84],[2004.66,6.3],[2004.86,6.01],[2005.11,5.83],[2005.37,6.01],[2005.62,5.71],[2005.87,6.07],[2006.12,6.19],[2006.32,6.01],[2006.5,6.54],[2006.75,6.72],[2007.0,6.78],[2007.25,6.66],[2007.43,5.71],[2007.63,6.54],[2007.88,6.42],[2008.14,6.01],[2008.34,5.24],[2008.59,5.83],[2008.84,5.95],[2009.09,5.59],[2009.35,4.82],[2009.6,5.12],[2009.85,5.59],[2010.05,5.18],[2010.28,4.77],[2010.53,5.54],[2010.78,5.83],[2011.03,6.01],[2011.28,6.19],[2011.46,6.07],[2011.66,6.84],[2011.91,6.96],[2012.12,6.96],[2012.29,6.66],[2012.54,7.37],[2012.8,7.64],[2013.05,7.49],[2013.3,7.31],[2013.43,7.08],[2013.68,7.43],[2013.98,7.25]];

var spiSeries = [spiMT4, spiNE1, spiSD1, spiTX5, spiKS2];
var bSeries = [bMT4, bNE1, bSD1, bTX5, bKS2];
var bTickSets = [mt4BTicks, ne1BTicks, sd1BTicks, tx5BTicks, ks2BTicks];
var xLabelSets = [decadeLabels, decadeLabels, decadeLabels, tx5Labels, decadeLabels];

// ---------------- layout (pixels) ----------------
var layout = [
  { left: 199,   right: 2313,   top: 45,     bottom: 407,    shift: 50, xLab: 486,  name: 563,  nameX: 203, spiX: 46, bX: 2560, fmt: ".2f", bW: 3.2, dash: "gray" },
  { left: 195,   right: 2307.5, top: 604,    bottom: 965,    shift: 50, xLab: 1044, name: 1113, nameX: 203, spiX: 39, bX: 2554, fmt: ".2f", bW: 3.2, dash: "gray" },
  { left: 201.5, right: 2313,   top: 1151,   bottom: 1512,   shift: 43, xLab: 1587, name: 1664, nameX: 203, spiX: 46, bX: 2546, fmt: "d",   bW: 4,   dash: "gray" },
  { left: 199,   right: 2311.5, top: 1699,   bottom: 2061,   shift: 50, xLab: 2148, name: 2208, nameX: 203, spiX: 46, bX: 2544, fmt: "d",   bW: 6,   dash: "dark" },
  { left: 201.5, right: 2313,   top: 2247.5, bottom: 2609,   shift: 68, xLab: 2703, name: 2776, nameX: 207, spiX: 47, bX: 2531, fmt: "d",   bW: 3.2, dash: "dark" }
];

var spiColor = "#a1282c", bColor = "#1c1c9c", axisColor = "#2b2b2b";

var svg = d3.select("#my_dataviz")
  .append("svg")
  .attr("width", 2604)
  .attr("height", 2877);

// half-year minor ticks, skipping decade marks
var minorYears = d3.range(1, 128).map(function (i) { return 1950 + i * 0.5; })
  .filter(function (v) { return Math.abs(v % 10) > 0.01 && v < 2014; });
var minorSpi = d3.range(0, 21).map(function (i) { return -4 + i * 0.4; })
  .filter(function (v) { return Math.abs(v / 2 - Math.round(v / 2)) > 0.01; });

function styleAxis(sel, domainWidth) {
  sel.select(".domain").attr("stroke", axisColor).attr("stroke-width", domainWidth);
  sel.selectAll(".tick line").attr("stroke", axisColor).attr("stroke-width", 2.2);
}

layout.forEach(function (L, i) {
  var x = d3.scaleLinear().domain(yearDomain).range([L.left, L.right]);
  var yS = d3.scaleLinear().domain([-4, 4]).range([L.bottom, L.top]);
  var bt = bTickSets[i];
  var yB = d3.scaleLinear().domain(d3.extent(bt)).range([L.bottom, L.top]);
  var g = svg.append("g");

  // dashed reference line
  g.append("line")
    .attr("x1", L.left).attr("x2", L.right)
    .attr("y1", yS(dashLevels[i])).attr("y2", yS(dashLevels[i]))
    .attr("stroke", L.dash === "gray" ? "#8c8c8c" : "#3a3a3a")
    .attr("stroke-width", L.dash === "gray" ? 5 : 3.2)
    .attr("stroke-dasharray", L.dash === "gray" ? "52,26" : "44,24");

  // top minor ticks (inward)
  g.append("g").attr("transform", "translate(0," + L.top + ")")
    .call(d3.axisTop(x).tickValues(minorYears).tickSize(-16).tickSizeOuter(0).tickFormat(""))
    .call(styleAxis, 4.5);

  // bottom minor ticks (inward)
  g.append("g").attr("transform", "translate(0," + L.bottom + ")")
    .call(d3.axisBottom(x).tickValues(minorYears).tickSize(-16).tickSizeOuter(0).tickFormat(""))
    .call(styleAxis, 4.5);

  // bottom decade ticks and labels
  var labels = xLabelSets[i];
  g.append("g").attr("transform", "translate(0," + L.bottom + ")")
    .call(d3.axisBottom(x).tickValues(decades).tickSize(32).tickSizeOuter(0)
      .tickFormat(function (d, j) { return labels[j]; }))
    .call(styleAxis, 4.5)
    .selectAll("text")
    .attr("y", L.xLab - L.bottom).attr("dy", 0).attr("dx", L.shift);

  // left SPI axis
  g.append("g").attr("transform", "translate(" + L.left + ",0)")
    .call(d3.axisLeft(yS).tickValues(minorSpi).tickSize(-8).tickSizeOuter(0).tickFormat(""))
    .call(styleAxis, 2.6);
  g.append("g").attr("transform", "translate(" + L.left + ",0)")
    .call(d3.axisLeft(yS).tickValues(spiTicks).tickSize(12).tickSizeOuter(0)
      .tickFormat(function (d) { return String(d); }))
    .call(styleAxis, 2.6)
    .selectAll("text").attr("x", -37).attr("dy", "0.36em");

  // right b axis
  var step = (bt[1] - bt[0]) / 5;
  var minorB = d3.range(1, (bt.length - 1) * 5).map(function (k) { return bt[0] + k * step; })
    .filter(function (k, idx) { return (idx + 1) % 5 !== 0; });
  g.append("g").attr("transform", "translate(" + L.right + ",0)")
    .call(d3.axisRight(yB).tickValues(minorB).tickSize(-8).tickSizeOuter(0).tickFormat(""))
    .call(styleAxis, 2.6);
  g.append("g").attr("transform", "translate(" + L.right + ",0)")
    .call(d3.axisRight(yB).tickValues(bt).tickSize(15).tickSizeOuter(0).tickFormat(d3.format(L.fmt)))
    .call(styleAxis, 2.6)
    .selectAll("text").attr("x", 42).attr("dy", "0.36em");

  // axis titles
  var midY = (L.top + L.bottom) / 2;
  g.append("text")
    .attr("transform", "translate(" + L.spiX + "," + midY + ") rotate(-90)")
    .attr("text-anchor", "middle").attr("dy", "0.36em")
    .text("SPI-24");
  var bt2 = g.append("text")
    .attr("transform", "translate(" + L.bX + "," + midY + ") rotate(-90)")
    .attr("text-anchor", "middle").attr("dy", "0.36em");
  bt2.append("tspan").attr("font-style", "italic").text("b");
  bt2.append("tspan").text("(m)");

  // site name
  g.append("text").attr("x", L.nameX).attr("y", L.name).text(sites[i]);

  // SPI line
  var line = d3.line()
    .defined(function (d) { return d[1] !== null; })
    .x(function (d) { return x(d[0]); });

  g.append("path")
    .datum(spiSeries[i])
    .attr("fill", "none")
    .attr("stroke", spiColor)
    .attr("stroke-width", 2.4)
    .attr("stroke-linejoin", "round")
    .attr("d", line.y(function (d) { return yS(d[1]); }));

  // b line
  g.append("path")
    .datum(bSeries[i])
    .attr("fill", "none")
    .attr("stroke", bColor)
    .attr("stroke-width", L.bW)
    .attr("stroke-linejoin", "round")
    .attr("d", line.y(function (d) { return yB(d[1]); }));

  // isolated b points
  var pts = bSeries[i].filter(function (d, k, arr) {
    var prev = arr[k - 1], next = arr[k + 1];
    return d[1] !== null && (!prev || prev[1] === null) && (!next || next[1] === null);
  });
  g.selectAll("circle.iso").data(pts).enter().append("circle")
    .attr("cx", function (d) { return x(d[0]); })
    .attr("cy", function (d) { return yB(d[1]); })
    .attr("r", 3.5).attr("fill", bColor);
});

// legend
var legend = svg.append("g");
legend.append("line").attr("x1", 165).attr("x2", 284).attr("y1", 2838).attr("y2", 2838)
  .attr("stroke", "#d29a9a").attr("stroke-width", 5);
legend.append("rect").attr("x", 222).attr("y", 2834).attr("width", 4).attr("height", 8).attr("fill", "#9a2a2a");
legend.append("text").attr("x", 313).attr("y", 2856).text("SPI-24");
legend.append("line").attr("x1", 614).attr("x2", 733).attr("y1", 2830).attr("y2", 2830)
  .attr("stroke", "#3333a8").attr("stroke-width", 4);
legend.append("rect").attr("x", 671).attr("y", 2826).attr("width", 4).attr("height", 8).attr("fill", "#1c1c8c");
legend.append("text").attr("x", 762).attr("y", 2848).attr("font-style", "italic").text("b");

</script>
</body>
